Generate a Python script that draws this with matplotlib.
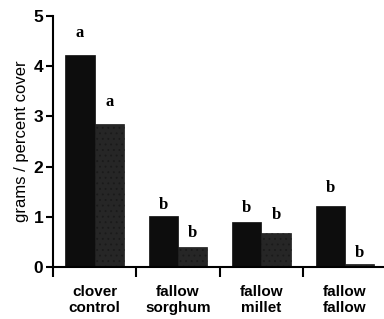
import matplotlib
matplotlib.use("Agg")
import matplotlib.pyplot as plt
import numpy as np

categories = ["clover\ncontrol", "fallow\nsorghum", "fallow\nmillet", "fallow\nfallow"]
series_black = [4.22, 1.02, 0.90, 1.22]
series_grey = [2.85, 0.40, 0.68, 0.05]
letters_black = ["a", "b", "b", "b"]
letters_grey = ["a", "b", "b", "b"]
yticks = [0, 1, 2, 3, 4, 5]

plt.rcParams['font.family'] = ['Liberation Sans', 'DejaVu Sans']
plt.rcParams['hatch.color'] = '#505050'
plt.rcParams['hatch.linewidth'] = 0.6

fig = plt.figure(figsize=(3.84, 3.19), dpi=100)
ax = fig.add_axes([0.138, 0.163, 0.862, 0.787])

x = np.arange(len(categories))
w = 0.35
ax.bar(x - w / 2, series_black, width=w, color='#0d0d0d', edgecolor='#0d0d0d', linewidth=0.5)
ax.bar(x + w / 2, series_grey, width=w, color='#262626', edgecolor='#1a1a1a', linewidth=0.5,
       hatch='...')

black_off = [0.44, 0.22, 0.28, 0.35]
grey_off = [0.44, 0.28, 0.36, 0.23]
for xi, v, lab, off in zip(x - w / 2, series_black, letters_black, black_off):
    ax.text(xi, v + off, lab, ha='center', va='center', fontsize=12,
            family='Liberation Serif', fontweight='bold')
for xi, v, lab, off in zip(x + w / 2, series_grey, letters_grey, grey_off):
    ax.text(xi, v + off, lab, ha='center', va='center', fontsize=12,
            family='Liberation Serif', fontweight='bold')

ax.set_xlim(-0.5, 3.47)
ax.set_ylim(0, 5)
ax.set_yticks(yticks)
ax.set_yticklabels([str(t) for t in yticks], fontsize=12.5, fontweight='bold')
ax.set_xticks([-0.5, 0.5, 1.5, 2.5])
ax.set_xticklabels([])
ax.tick_params(axis='x', direction='out', length=7, width=1.5)
ax.tick_params(axis='y', direction='out', length=5, width=1.5, pad=2)
for i, c in enumerate(categories):
    ax.text(i, -0.35, c, ha='center', va='top', fontsize=11, fontweight='bold',
            linespacing=1.25)

for s in ['top', 'right']:
    ax.spines[s].set_visible(False)
ax.spines['left'].set_linewidth(1.5)
ax.spines['bottom'].set_linewidth(1.5)

ax.set_ylabel("grams / percent cover", fontsize=12, labelpad=3)

fig.savefig("out.png", dpi=100)
